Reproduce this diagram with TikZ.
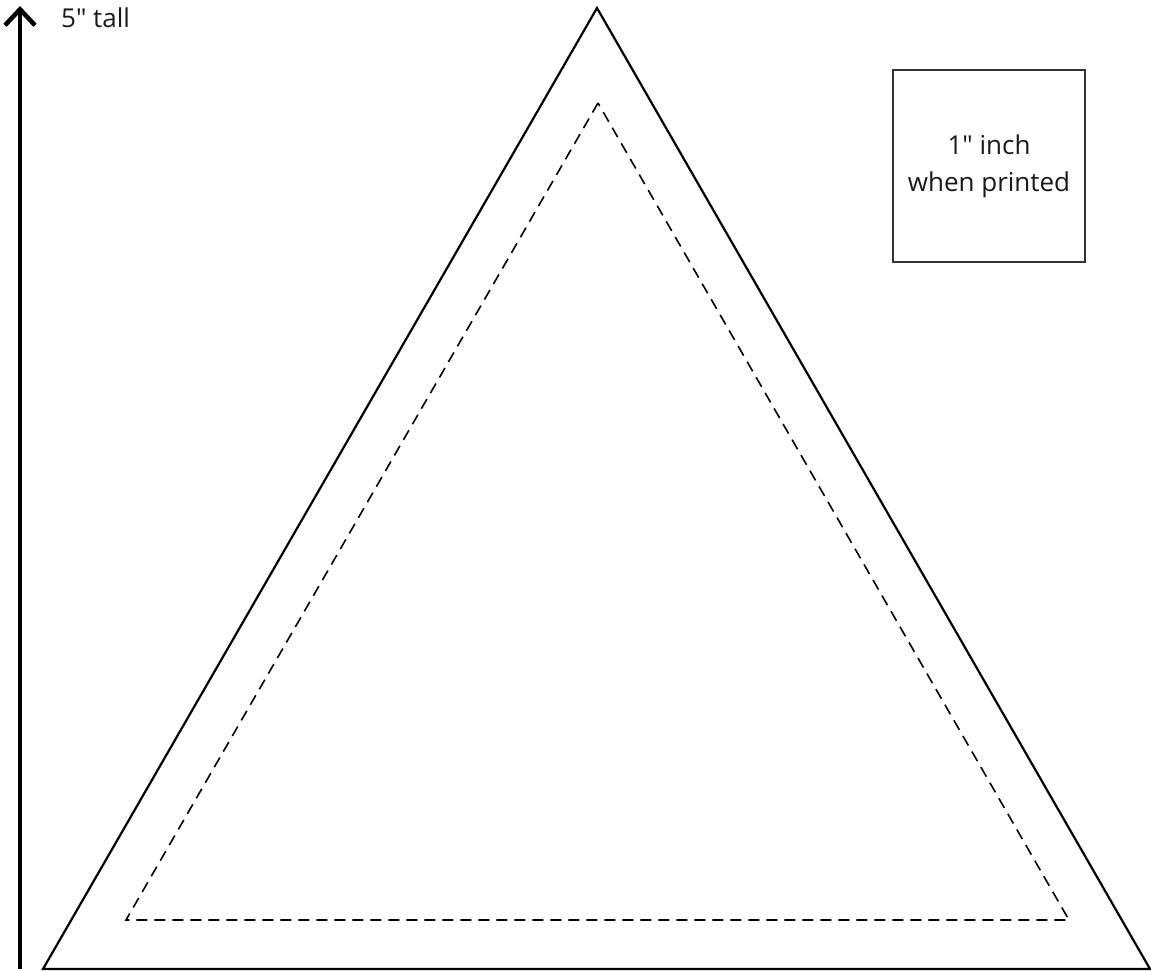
\documentclass[tikz,border=0pt]{standalone}
\usepackage{fontspec}
\setmainfont{Open Sans}[Ligatures=TeXOff]
\usetikzlibrary{arrows.meta}
\begin{document}
\begin{tikzpicture}[x=1pt,y=-1pt,
  outer/.style={line width=2.2pt,line join=miter},
  inner/.style={line width=1.6pt,dash pattern=on 11pt off 7pt},
  lbl/.style={font=\fontsize{26}{37}\selectfont,text=black!90},
  scalearrow/.style={line width=4.5pt,-{Straight Barb[length=16pt,width=30pt,line width=4.5pt]}}]
\useasboundingbox (0,0) rectangle (1151,971);
% outer triangle
\coordinate (A) at (597,8);
\coordinate (B) at (43,969);
\coordinate (C) at (1150,969);
\draw[outer] (A) -- (B) -- (C) -- cycle;
% inner dashed triangle
\coordinate (a) at (598,103);
\coordinate (b) at (126,920);
\coordinate (c) at (1069,920);
\draw[inner] (a) -- (b) -- (c) -- cycle;
% scale arrow
\coordinate (s0) at (20,969);
\coordinate (s1) at (20,6);
\draw[scalearrow] (s0) -- (s1);
\node[lbl,anchor=base west,inner sep=0] (tall) at (61,28) {5" tall};
% reference square
\node[draw=black!80,line width=1.2pt,minimum width=192pt,minimum height=192pt,inner sep=0,
      lbl,align=center] (sq) at (989,166) {1" inch\\when printed};
\end{tikzpicture}
\end{document}
